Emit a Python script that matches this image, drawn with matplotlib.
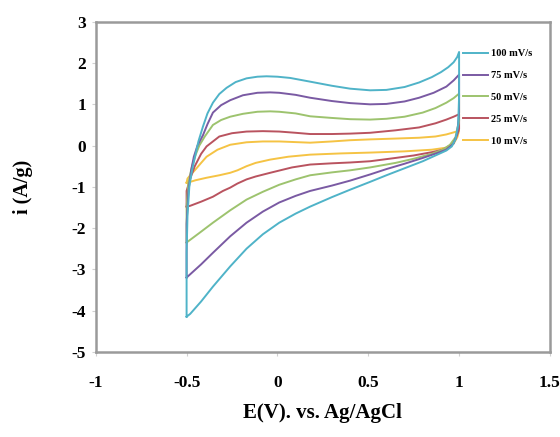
import numpy as np
import matplotlib
matplotlib.use('Agg')
from matplotlib import pyplot as plt

plt.rcParams['font.family'] = ['Liberation Serif', 'DejaVu Serif']
plt.rcParams['font.weight'] = 'bold'
plt.rcParams['axes.unicode_minus'] = False

# scan rates and colours
labels = ['100 mV/s', '75 mV/s', '50 mV/s', '25 mV/s', '10 mV/s']
colors = ['#4fb3c8', '#7a5aa3', '#9dc36e', '#b9535f', '#f5c344']

# anodic (upper) branches, from -0.5 V to 1.0 V
e_up_100 = [-0.50, -0.50, -0.495, -0.485, -0.47, -0.455, -0.435, -0.41, -0.385, -0.355, -0.32, -0.28, -0.23, -0.17, -0.11, -0.06, 0.00, 0.07, 0.18, 0.30, 0.40, 0.51, 0.60, 0.70, 0.78, 0.85, 0.90, 0.94, 0.97, 0.99, 1.00]
i_up_100 = [-4.15, -2.60, -1.70, -1.00, -0.60, -0.30, 0.10, 0.46, 0.78, 1.04, 1.25, 1.40, 1.54, 1.63, 1.67, 1.68, 1.67, 1.64, 1.55, 1.45, 1.38, 1.34, 1.35, 1.42, 1.53, 1.66, 1.78, 1.90, 2.02, 2.15, 2.27]
e_up_75 = [-0.50, -0.50, -0.49, -0.475, -0.46, -0.44, -0.41, -0.385, -0.355, -0.31, -0.26, -0.19, -0.11, -0.04, 0.01, 0.10, 0.18, 0.30, 0.40, 0.51, 0.60, 0.70, 0.78, 0.86, 0.93, 0.97, 1.00]
i_up_75 = [-3.20, -1.90, -1.10, -0.60, -0.27, 0.00, 0.25, 0.52, 0.80, 0.98, 1.10, 1.22, 1.28, 1.29, 1.28, 1.23, 1.16, 1.08, 1.03, 1.00, 1.01, 1.07, 1.16, 1.28, 1.43, 1.58, 1.72]
e_up_50 = [-0.50, -0.50, -0.49, -0.47, -0.45, -0.43, -0.40, -0.355, -0.31, -0.26, -0.19, -0.11, -0.04, 0.01, 0.10, 0.18, 0.30, 0.40, 0.51, 0.60, 0.70, 0.80, 0.87, 0.93, 0.97, 1.00]
i_up_50 = [-2.35, -1.50, -0.90, -0.50, -0.22, 0.00, 0.22, 0.50, 0.62, 0.70, 0.77, 0.82, 0.83, 0.82, 0.78, 0.71, 0.67, 0.64, 0.63, 0.65, 0.70, 0.80, 0.91, 1.04, 1.15, 1.26]
e_up_25 = [-0.50, -0.50, -0.48, -0.455, -0.42, -0.39, -0.32, -0.25, -0.17, -0.08, 0.01, 0.10, 0.18, 0.30, 0.40, 0.51, 0.65, 0.78, 0.87, 0.93, 0.97, 1.00]
i_up_25 = [-1.48, -1.10, -0.80, -0.50, -0.20, -0.02, 0.22, 0.30, 0.34, 0.35, 0.34, 0.31, 0.28, 0.28, 0.29, 0.31, 0.37, 0.44, 0.54, 0.63, 0.70, 0.76]
e_up_10 = [-0.50, -0.495, -0.48, -0.455, -0.42, -0.39, -0.33, -0.26, -0.17, -0.08, 0.01, 0.18, 0.30, 0.40, 0.51, 0.65, 0.78, 0.87, 0.93, 0.97, 1.00]
i_up_10 = [-0.90, -0.80, -0.72, -0.60, -0.42, -0.27, -0.10, 0.02, 0.08, 0.10, 0.10, 0.07, 0.10, 0.13, 0.15, 0.17, 0.19, 0.22, 0.27, 0.32, 0.36]

# cathodic (lower) branches, from 1.0 V back to -0.5 V
e_dn_100 = [1.00, 1.00, 0.995, 0.98, 0.96, 0.93, 0.88, 0.80, 0.70, 0.60, 0.51, 0.40, 0.30, 0.18, 0.10, 0.01, -0.08, -0.17, -0.26, -0.355, -0.42, -0.46, -0.48, -0.50]
i_dn_100 = [2.27, 1.20, 0.50, 0.15, -0.02, -0.12, -0.22, -0.38, -0.55, -0.72, -0.88, -1.07, -1.25, -1.48, -1.65, -1.87, -2.15, -2.50, -2.93, -3.42, -3.78, -3.98, -4.08, -4.15]
e_dn_75 = [1.00, 1.00, 0.99, 0.97, 0.93, 0.88, 0.80, 0.70, 0.60, 0.51, 0.40, 0.30, 0.18, 0.10, 0.01, -0.08, -0.17, -0.26, -0.355, -0.42, -0.47, -0.50]
i_dn_75 = [1.72, 0.80, 0.30, 0.05, -0.10, -0.18, -0.30, -0.44, -0.57, -0.70, -0.85, -0.97, -1.10, -1.22, -1.38, -1.60, -1.87, -2.20, -2.60, -2.88, -3.08, -3.20]
e_dn_50 = [1.00, 1.00, 0.98, 0.95, 0.91, 0.85, 0.75, 0.65, 0.51, 0.40, 0.30, 0.18, 0.10, 0.01, -0.08, -0.17, -0.26, -0.355, -0.43, -0.50]
i_dn_50 = [1.26, 0.60, 0.20, 0.02, -0.10, -0.20, -0.32, -0.42, -0.53, -0.60, -0.65, -0.72, -0.82, -0.95, -1.12, -1.31, -1.57, -1.87, -2.12, -2.35]
e_dn_25 = [1.00, 1.00, 0.98, 0.95, 0.91, 0.85, 0.75, 0.65, 0.51, 0.40, 0.30, 0.18, 0.08, -0.04, -0.12, -0.17, -0.22, -0.26, -0.30, -0.355, -0.42, -0.48, -0.50]
i_dn_25 = [0.76, 0.40, 0.15, 0.00, -0.10, -0.16, -0.24, -0.30, -0.38, -0.41, -0.43, -0.46, -0.53, -0.66, -0.75, -0.82, -0.92, -1.02, -1.10, -1.24, -1.36, -1.46, -1.48]
e_dn_10 = [1.00, 0.99, 0.97, 0.93, 0.85, 0.70, 0.51, 0.35, 0.18, 0.06, -0.04, -0.12, -0.17, -0.22, -0.26, -0.32, -0.39, -0.45, -0.48, -0.50]
i_dn_10 = [0.36, 0.20, 0.05, -0.05, -0.10, -0.14, -0.17, -0.19, -0.22, -0.27, -0.34, -0.42, -0.50, -0.60, -0.66, -0.72, -0.78, -0.84, -0.88, -0.90]

curves = [
    (e_up_100, i_up_100, e_dn_100, i_dn_100),
    (e_up_75, i_up_75, e_dn_75, i_dn_75),
    (e_up_50, i_up_50, e_dn_50, i_dn_50),
    (e_up_25, i_up_25, e_dn_25, i_dn_25),
    (e_up_10, i_up_10, e_dn_10, i_dn_10),
]

fig = plt.figure(figsize=(5.6, 4.37), dpi=100)
ax = fig.add_axes([0.171, 0.195, 0.811, 0.755])

# smallest loop drawn last so it sits on top
for k in range(len(curves) - 1, -1, -1):
    eu, iu, ed, idn = curves[k]
    e = np.concatenate([eu, ed])
    i = np.concatenate([iu, idn])
    ax.plot(e, i, color=colors[k], lw=1.4, label=labels[k])

ax.set_xlim(-1, 1.5)
ax.set_ylim(-5, 3)
ax.set_xticks([-1, -0.5, 0, 0.5, 1, 1.5])
ax.set_xticklabels(['-1', '-0.5', '0', '0.5', '1', '1.5'])
ax.set_yticks(range(-5, 4))
ax.tick_params(direction='out', length=3, width=0.8, color='#d0d0d0', labelsize=12.5)
ax.tick_params(axis='x', pad=14)
ax.tick_params(axis='y', pad=4)
for s in ax.spines.values():
    s.set_color('#9a9a9a')
    s.set_linewidth(1.8)

ax.set_xlabel('E(V). vs. Ag/AgCl', fontsize=15, fontweight='bold', labelpad=8)
ax.set_ylabel('i (A/g)', fontsize=14.5, fontweight='bold', labelpad=28)

handles, labs = ax.get_legend_handles_labels()
ax.legend(handles[::-1], labs[::-1], loc='upper left', bbox_to_anchor=(0.80, 0.93),
          frameon=False, fontsize=7.5, handlelength=2.4, handletextpad=0.25,
          labelspacing=1.2, borderaxespad=0)

plt.savefig('out.png', dpi=100)
